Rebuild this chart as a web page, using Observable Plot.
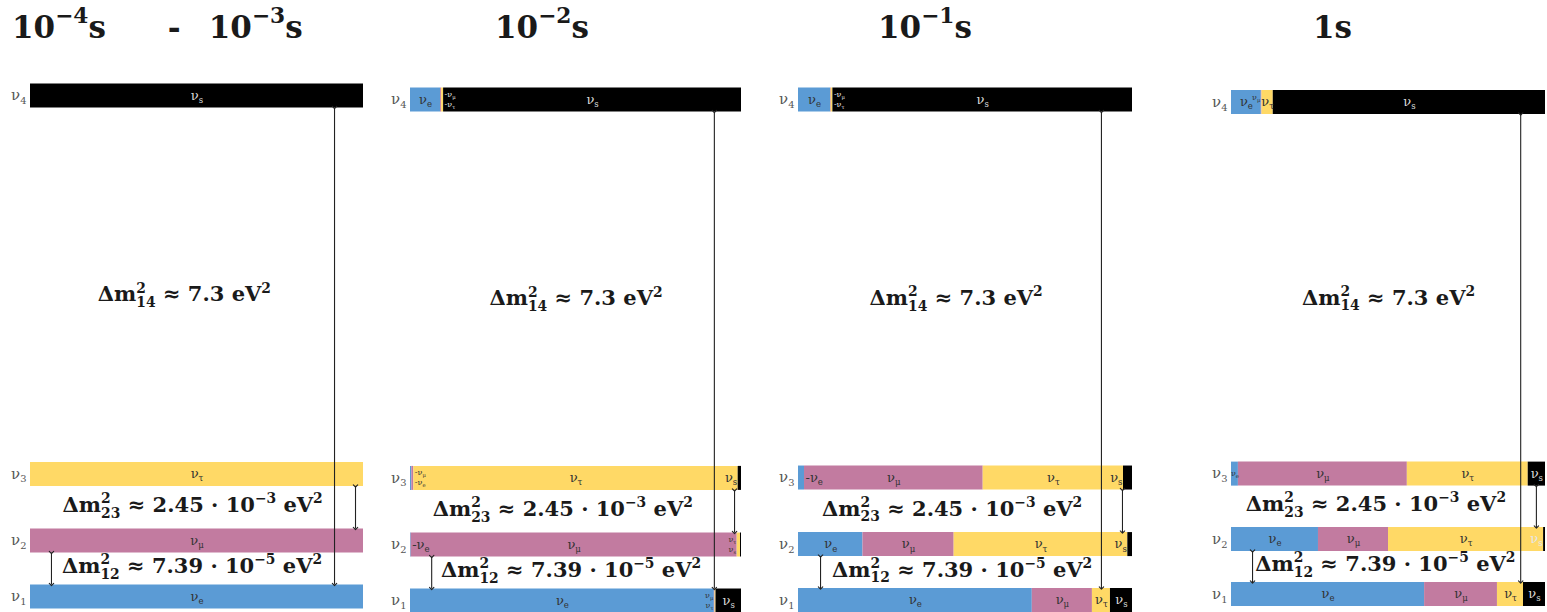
<!DOCTYPE html>
<html><head><meta charset="utf-8">
<script src="https://cdn.jsdelivr.net/npm/d3@7"></script>
<script src="https://cdn.jsdelivr.net/npm/@observablehq/plot@0.6"></script>
<style>
body{margin:0;background:#fff;}
#root{position:relative;width:1547px;height:612px;overflow:hidden;font-family:"DejaVu Serif",serif;}
.title{position:absolute;top:12px;font-weight:bold;font-size:31px;line-height:30px;color:#1a1a1a;white-space:nowrap;}
.title sup{font-size:0.7em;vertical-align:0.7em;line-height:0;}
.panel{position:absolute;top:60px;}
</style></head><body><div id="root"></div>
<script>
// ---------- data ----------
const panelTitles = ["10^{−4}s - 10^{−3}s", "10^{−2}s", "10^{−1}s", "1s"];
const massStates = ["ν4", "ν3", "ν2", "ν1"];
const massLabels = ["ν_4", "ν_3", "ν_2", "ν_1"];
const massLevels = [8.95, 2.19, 1, 0];          // schematic mass levels
const flavors = ["e", "μ", "τ", "s"];
const flavorColors = ["#5b9bd5", "#c27ba0", "#ffd966", "#000000"];
// flavour content of each mass state (rows ν4,ν3,ν2,ν1; columns e, μ, τ, s)
const mix0 = [[0, 0, 0, 1], [0, 0, 1, 0], [0, 1, 0, 0], [1, 0, 0, 0]];
const mix1 = [[0.091, 0.003, 0.006, 0.900], [0.004, 0.006, 0.980, 0.010], [0.002, 0.985, 0.010, 0.003], [0.918, 0.002, 0.003, 0.077]];
const mix2 = [[0.096, 0.002, 0.005, 0.897], [0.018, 0.535, 0.420, 0.027], [0.193, 0.273, 0.520, 0.014], [0.700, 0.180, 0.054, 0.066]];
const mix3 = [[0.095, 0.002, 0.036, 0.867], [0.022, 0.538, 0.385, 0.055], [0.277, 0.223, 0.494, 0.006], [0.615, 0.232, 0.083, 0.070]];
const mixes = [mix0, mix1, mix2, mix3];
const splitUpper = ["ν4", "ν3", "ν2"];
const splitLower = ["ν1", "ν2", "ν1"];
const splitTexts = ["Δm^{2}_{14} ≈ 7.3 eV^{2}", "Δm^{2}_{23} ≈ 2.45 · 10^{−3} eV^{2}", "Δm^{2}_{12} ≈ 7.39 · 10^{−5} eV^{2}"];
// small annotations of thin slices: [panel, state, flavour, edge, vertical, text, tone, size]
const minorLabels = [
  [1, "ν4", "τ", "end", "top", "-ν_μ", "light", 8],
  [1, "ν4", "τ", "end", "bottom", "-ν_τ", "light", 8],
  [1, "ν3", "μ", "end", "top", "-ν_μ", "dark", 8],
  [1, "ν3", "μ", "end", "bottom", "-ν_e", "dark", 8],
  [1, "ν3", "s", "start", "mid", "ν_s", "dark", 13],
  [1, "ν2", "e", "end", "mid", "-ν_e", "dark", 13],
  [1, "ν2", "τ", "start", "top", "ν_τ", "dark", 8],
  [1, "ν2", "τ", "start", "bottom", "ν_s", "dark", 8],
  [1, "ν1", "μ", "start", "top", "ν_μ", "dark", 8],
  [1, "ν1", "μ", "start", "bottom", "ν_τ", "dark", 8],
  [2, "ν4", "τ", "end", "top", "-ν_μ", "light", 8],
  [2, "ν4", "τ", "end", "bottom", "-ν_τ", "light", 8],
  [2, "ν3", "e", "end", "mid", "-ν_e", "dark", 13],
  [2, "ν3", "s", "start", "mid", "ν_s", "dark", 13],
  [2, "ν2", "s", "start", "mid", "ν_s", "dark", 13],
  [3, "ν4", "μ", "start", "top", "ν_μ", "dark", 8],
  [3, "ν3", "e", "center", "mid", "ν_e", "dark", 8],
  [3, "ν2", "s", "start", "mid", "ν_s", "light", 13]
];

// ---------- layout ----------
const layout = [
  {left: 0,    width: 380, marginLeft: 30, marginRight: 17, yLow: 596,   yHigh: 95,    arrowX: [0.913, 0.976, 0.063], textX: [0.462, 0.487, 0.485], titleLeft: 12},
  {left: 382,  width: 365, marginLeft: 28, marginRight: 6,  yLow: 600,   yHigh: 99,    arrowX: [0.918, 0.979, 0.064], textX: [0.50, 0.46, 0.485],  titleLeft: 495},
  {left: 770,  width: 370, marginLeft: 28, marginRight: 8,  yLow: 599.5, yHigh: 99,    arrowX: [0.907, 0.970, 0.066], textX: [0.472, 0.46, 0.49],  titleLeft: 878},
  {left: 1203, width: 344, marginLeft: 28, marginRight: 2,  yLow: 593.5, yHigh: 101.5, arrowX: [0.921, 0.971, 0.067], textX: [0.50, 0.46, 0.49],   titleLeft: 1313}
];
const TOP = 60, H = 552, BAR = 24;
const levelOf = Object.fromEntries(massStates.map((s, i) => [s, massLevels[i]]));

function richText(el) {
  const s = el.textContent;
  if (!/[\^_]/.test(s)) return;
  const re = /([\^_])(\{([^}]*)\}|(.))/g;
  let last = 0, m, tokens = [];
  while ((m = re.exec(s))) {
    if (m.index > last) tokens.push({k: "n", s: s.slice(last, m.index)});
    tokens.push({k: m[1] === "^" ? "sup" : "sub", s: m[3] !== undefined ? m[3] : m[4]});
    last = re.lastIndex;
  }
  if (last < s.length) tokens.push({k: "n", s: s.slice(last)});
  const fs = parseFloat(getComputedStyle(el).fontSize) || 12;
  el.textContent = "";
  let cur = 0, prevSup = null;
  tokens.forEach(t => {
    const ts = document.createElementNS("http://www.w3.org/2000/svg", "tspan");
    ts.textContent = t.s;
    const target = t.k === "sup" ? -0.42 * fs : t.k === "sub" ? (prevSup ? 0.27 : 0.25) * fs : 0;
    if (t.k !== "n") ts.setAttribute("font-size", (0.66 * fs) + "px");
    if (target - cur !== 0) ts.setAttribute("dy", target - cur);
    cur = target;
    el.appendChild(ts);
    if (t.k === "sub" && prevSup) ts.setAttribute("dx", -prevSup.getComputedTextLength());
    prevSup = t.k === "sup" ? ts : null;
  });
}

const root = document.getElementById("root");

panelTitles.forEach((t, p) => {
  const d = document.createElement("div");
  d.className = "title";
  d.style.left = layout[p].titleLeft + "px";
  d.innerHTML = t.replace(/\^\{([^}]*)\}/g, "<sup>$1</sup>").replace(" - ", '<span style="margin:0 28px 0 62px">-</span>');
  root.appendChild(d);
});

mixes.forEach((mix, p) => {
  const L = layout[p];
  const pxPerUnit = (L.yLow - L.yHigh) / (massLevels[0] - massLevels[3]);
  const half = (BAR / 2) / pxPerUnit;
  const segs = [];
  massStates.forEach((st, i) => {
    const total = d3.sum(mix[i]);
    let acc = 0;
    flavors.forEach((f, j) => {
      const v = mix[i][j] / total;
      if (v > 0) segs.push({state: st, level: massLevels[i], flavor: f, x1: acc, x2: acc + v, frac: v, label: "ν_" + f});
      acc += v;
    });
  });
  const big = segs.filter(d => d.frac >= 0.035);
  const rows = massStates.map((s, i) => ({level: massLevels[i], label: massLabels[i]}));
  const arrows = splitUpper.map((u, k) => ({
    x: L.arrowX[k],
    y1: levelOf[u] - half,
    y2: levelOf[splitLower[k]] + half
  }));
  // each splitting label sits between the upper state and the state just below it
  const splits = splitUpper.map((u, k) => {
    const below = massStates[massStates.indexOf(u) + 1];
    return {x: L.textX[k], y: (levelOf[u] + levelOf[below]) / 2, text: splitTexts[k], far: k === 0};
  });
  const minor = minorLabels.filter(d => d[0] === p).map(d => {
    const s = segs.find(g => g.state === d[1] && g.flavor === d[2]);
    const x = d[3] === "end" ? s.x2 : d[3] === "start" ? s.x1 : (s.x1 + s.x2) / 2;
    return {x, level: s.level, edge: d[3], v: d[4], text: d[5], fill: d[6] === "light" ? "#e6e6e6" : "#333", size: d[7]};
  });
  const minorMarks = [];
  for (const edge of ["end", "start", "center"]) for (const v of ["top", "mid", "bottom"]) for (const size of [8, 13]) {
    const data = minor.filter(d => d.edge === edge && d.v === v && d.size === size);
    if (!data.length) continue;
    minorMarks.push(Plot.text(data, {
      x: "x", y: "level", text: "text", fill: "fill", fontSize: size,
      textAnchor: edge === "end" ? "start" : edge === "start" ? "end" : "middle",
      dx: edge === "end" ? 1 : edge === "start" ? -1 : 0,
      dy: v === "top" ? -5 : v === "bottom" ? 5 : 0
    }));
  }
  const chart = Plot.plot({
    width: L.width, height: H,
    marginLeft: L.marginLeft, marginRight: L.marginRight, marginTop: 0, marginBottom: 0,
    style: {fontFamily: "DejaVu Serif, serif", background: "transparent"},
    x: {domain: [0, 1], axis: null},
    y: {domain: [massLevels[3], massLevels[0]], range: [L.yLow - TOP, L.yHigh - TOP], axis: null},
    color: {domain: flavors, range: flavorColors},
    marks: [
      Plot.ruleY(segs, {y: "level", x1: "x1", x2: "x2", stroke: "flavor", strokeWidth: BAR}),
      Plot.text(big, {x: d => (d.x1 + d.x2) / 2, y: "level", text: "label", fontSize: 13,
        fill: d => d.flavor === "s" ? "#d9d9d9" : "#333"}),
      ...minorMarks,
      Plot.text(rows, {x: 0, y: "level", text: "label", textAnchor: "end", dx: -4, fontSize: 15, fill: "#555"}),
      Plot.link(arrows, {x1: "x", x2: "x", y1: "y1", y2: "y2", stroke: "#222", strokeWidth: 1.1,
        markerStart: "arrow", markerEnd: "arrow"}),
      Plot.text(splits.filter(d => d.far), {x: "x", y: "y", text: "text", dy: 10, fontSize: 21, fontWeight: "bold", fill: "#1a1a1a"}),
      Plot.text(splits.filter(d => !d.far), {x: "x", y: "y", text: "text", dy: -2, fontSize: 21, fontWeight: "bold", fill: "#1a1a1a"})
    ]
  });
  const wrap = document.createElement("div");
  wrap.className = "panel";
  wrap.style.left = L.left + "px";
  wrap.appendChild(chart);
  root.appendChild(wrap);
  chart.querySelectorAll("text").forEach(richText);
});
</script></body></html>
